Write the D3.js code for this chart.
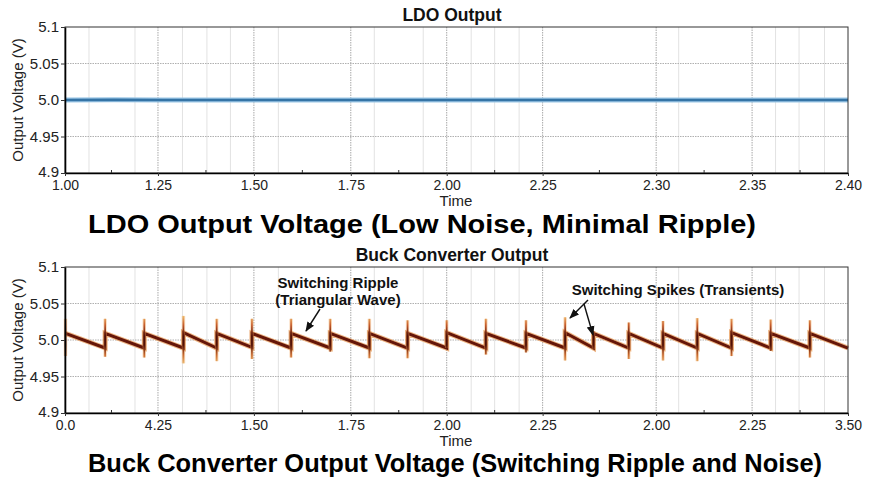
<!DOCTYPE html>
<html><head><meta charset="utf-8">
<script src="https://cdn.jsdelivr.net/npm/d3@7"></script>
<style>body{margin:0;background:#fff;}svg{display:block;font-family:"Liberation Sans",Arial,sans-serif;}</style>
</head><body>
<svg id="c" width="873" height="487"></svg>
<script>
// ---------- data ----------
const xTickPos = [0, 0.95, 1.93, 2.92, 3.90, 4.88, 6.04, 7.02, 8];
const ldoTickLabels = ["1.00","1.25","1.50","1.75","2.00","2.25","2.30","2.35","2.40"];
const buckTickLabels = ["0.0","4.25","1.50","1.75","2.00","2.25","2.00","2.25","3.50"];
const yTickValues = [4.9, 4.95, 5.0, 5.05, 5.1];
const yTickLabels = ["4.9","4.95","5.0","5.05","5.1"];
const minorGridPos = [0.245, 0.715, 1.2, 1.45, 1.69, 2.18, 3.16, 3.66, 4.15, 4.39, 4.64, 6.27, 7.26, 7.5, 7.76];

const ldoTime  = [0, 0.5, 1, 1.5, 2, 2.5, 3, 3.5, 4, 4.5, 5, 5.5, 6, 6.5, 7, 7.5, 8];
const ldoValue = [5.0, 5.0002, 4.9999, 5.0001, 5.0, 4.9999, 5.0001, 5.0, 5.0001, 4.9999, 5.0, 5.0001, 5.0, 4.9999, 5.0001, 5.0, 5.0];

const spikeTime = [0.005, 0.41, 0.81, 1.21, 1.55, 1.91, 2.31, 2.71, 3.11, 3.50, 3.90, 4.30, 4.71, 5.11, 5.40, 5.76, 6.11, 6.46, 6.81, 7.21, 7.61];
const spikeHigh = [5.029, 5.029, 5.029, 5.033, 5.029, 5.029, 5.029, 5.029, 5.029, 5.027, 5.027, 5.029, 5.027, 5.031, 5.012, 5.024, 5.026, 5.030, 5.029, 5.028, 5.027];
const spikeLow  = [4.978, 4.977, 4.976, 4.968, 4.971, 4.974, 4.976, 4.984, 4.975, 4.975, 4.989, 4.980, 4.983, 4.972, 4.987, 4.974, 4.972, 4.971, 4.978, 4.985, 4.976];
const rampStart = [5.009, 5.009, 5.009, 5.010, 5.009, 5.009, 5.009, 5.009, 5.009, 5.009, 5.010, 5.009, 5.009, 5.010, 5.009, 5.009, 5.009, 5.009, 5.010, 5.009, 5.009];
const rampEnd   = [4.989, 4.989, 4.989, 4.989, 4.990, 4.989, 4.989, 4.989, 4.989, 4.989, 4.989, 4.989, 4.989, 4.989, 4.989, 4.989, 4.989, 4.989, 4.989, 4.989, 4.989];
const endTime = 8;

// ---------- layout ----------
const svg = d3.select("#c");
const L = 65, R = 848;
const panels = [
  {top: 27, bottom: 173, title: "LDO Output", labels: ldoTickLabels, big: "LDO Output Voltage (Low Noise, Minimal Ripple)", bigY: 233, bigLen: 668, bigX: 422},
  {top: 267, bottom: 413, title: "Buck Converter Output", labels: buckTickLabels, big: "Buck Converter Output Voltage (Switching Ripple and Noise)", bigY: 472, bigLen: 734, bigX: 455}
];

const defs = svg.append("defs");
const mk = defs.append("marker").attr("id","ah").attr("viewBox","0 0 10 10").attr("refX",9).attr("refY",5)
  .attr("markerWidth",7).attr("markerHeight",7).attr("orient","auto-start-reverse");
mk.append("path").attr("d","M0,1 L10,5 L0,9 z").attr("fill","#111");

panels.forEach((p, pi) => {
  const x = d3.scaleLinear().domain([0, 8]).range([L, R]);
  const y = d3.scaleLinear().domain([4.9, 5.1]).range([p.bottom, p.top]);
  const g = svg.append("g");

  // minor vertical grid
  g.selectAll(".mg").data(minorGridPos).join("line")
    .attr("x1", d => x(d)).attr("x2", d => x(d)).attr("y1", p.top).attr("y2", p.bottom)
    .attr("stroke", "#e2e2e2").attr("stroke-width", 1);
  // major vertical grid
  g.selectAll(".vg").data(xTickPos.slice(1, -1)).join("line")
    .attr("x1", d => x(d)).attr("x2", d => x(d)).attr("y1", p.top).attr("y2", p.bottom)
    .attr("stroke", "#a8a8a8").attr("stroke-width", 1).attr("stroke-dasharray", "1.5,1");
  // horizontal grid
  g.selectAll(".hg").data(yTickValues.slice(1, -1)).join("line")
    .attr("x1", L).attr("x2", R).attr("y1", d => y(d)).attr("y2", d => y(d))
    .attr("stroke", "#b0b0b0").attr("stroke-width", 1).attr("stroke-dasharray", "1.5,1");

  if (pi === 0) {
    const line = d3.line().x((d, i) => x(ldoTime[i])).y(d => y(d));
    g.append("path").datum(ldoValue).attr("d", line).attr("fill", "none")
      .attr("stroke", "#9cc7e6").attr("stroke-width", 5);
    g.append("path").datum(ldoValue).attr("d", line).attr("fill", "none")
      .attr("stroke", "#3574a6").attr("stroke-width", 2.6);
  } else {
    const pts = [];
    spikeTime.forEach((t, i) => {
      if (i > 0) pts.push([t, rampEnd[i - 1]]);
      pts.push([t, rampStart[i]]);
    });
    pts.push([endTime, rampEnd[rampEnd.length - 1]]);
    const line = d3.line().x(d => x(d[0])).y(d => y(d[1]));
    g.append("path").datum(pts).attr("d", line).attr("fill", "none")
      .attr("stroke", "#e6944e").attr("stroke-opacity", 0.7).attr("stroke-width", 5);
    g.append("path").datum(pts).attr("d", line).attr("fill", "none")
      .attr("stroke", "#651609").attr("stroke-width", 3);

    const grad = defs.append("linearGradient").attr("id", "sg").attr("gradientUnits", "userSpaceOnUse")
      .attr("x1", 0).attr("x2", 0).attr("y1", y(5.034)).attr("y2", y(4.966));
    [[0, "#f3c46e"], [0.2, "#c65a2a"], [0.42, "#4e0f06"], [0.6, "#4e0f06"], [0.8, "#c8682e"], [1, "#f3c87a"]]
      .forEach(s => grad.append("stop").attr("offset", s[0]).attr("stop-color", s[1]));
    g.selectAll(".sh").data(spikeTime).join("line")
      .attr("x1", d => x(d)).attr("x2", d => x(d))
      .attr("y1", (d, i) => y(spikeHigh[i])).attr("y2", (d, i) => y(spikeLow[i]))
      .attr("stroke", "#f0a860").attr("stroke-opacity", 0.4).attr("stroke-width", 3.5);
    g.selectAll(".sp").data(spikeTime).join("line")
      .attr("x1", d => x(d)).attr("x2", d => x(d))
      .attr("y1", (d, i) => y(spikeHigh[i])).attr("y2", (d, i) => y(spikeLow[i]))
      .attr("stroke", "url(#sg)").attr("stroke-width", 1.7);
  }

  // frame
  g.append("rect").attr("x", L).attr("y", p.top).attr("width", R - L).attr("height", p.bottom - p.top)
    .attr("fill", "none").attr("stroke", "#333").attr("stroke-width", 1);

  // y axis
  const yAxis = d3.axisLeft(y).tickValues(yTickValues).tickFormat((d, i) => yTickLabels[i]).tickSize(4).tickSizeOuter(0);
  const ya = g.append("g").attr("transform", `translate(${L},0)`).call(yAxis);
  ya.select(".domain").attr("stroke", "#000").attr("stroke-width", 1.6);
  ya.selectAll("text").attr("font-size", 15).attr("fill", "#222").attr("font-family", "Liberation Sans, Arial").attr("dx", "1px");
  ya.selectAll(".tick line").attr("stroke", "#333");
  ya.selectAll(".tick").filter((d, i) => i === 0).select("text").attr("dy", "0.2em");

  // x axis
  const xAxis = d3.axisBottom(x).tickValues(xTickPos).tickFormat((d, i) => p.labels[i]).tickSize(3).tickSizeOuter(0);
  const xa = g.append("g").attr("transform", `translate(0,${p.bottom})`).call(xAxis);
  xa.select(".domain").attr("stroke", "#000").attr("stroke-width", 1.6);
  xa.selectAll("text").attr("font-size", 14).attr("fill", "#222").attr("font-family", "Liberation Sans, Arial").attr("dy", "0.8em");
  xa.selectAll(".tick line").attr("stroke", "#333");
  const mids = xTickPos.slice(0, -1).map((d, i) => (d + xTickPos[i + 1]) / 2);
  g.selectAll(".mt").data(mids).join("line")
    .attr("x1", d => x(d)).attr("x2", d => x(d)).attr("y1", p.bottom).attr("y2", p.bottom - 3)
    .attr("stroke", "#333").attr("stroke-width", 1);

  // labels
  g.append("text").attr("x", 452).attr("y", p.top - 6).attr("text-anchor", "middle")
    .attr("font-size", 17.5).attr("font-weight", "bold").attr("fill", "#111").text(p.title);
  g.append("text").attr("x", 456).attr("y", p.bottom + 33).attr("text-anchor", "middle")
    .attr("font-size", 15).attr("fill", "#222").text("Time");
  g.append("text").attr("transform", `translate(23,${(p.top + p.bottom) / 2}) rotate(-90)`).attr("text-anchor", "middle")
    .attr("font-size", 15).attr("fill", "#222").text("Output Voltage (V)");
  g.append("text").attr("x", p.bigX).attr("y", p.bigY).attr("text-anchor", "middle")
    .attr("font-size", 25).attr("font-weight", "bold").attr("fill", "#000")
    .attr("textLength", p.bigLen).attr("lengthAdjust", "spacingAndGlyphs").text(p.big);

  if (pi === 1) {
    const ann = g.append("g").attr("font-size", 15).attr("font-weight", "bold").attr("fill", "#111").attr("text-anchor", "middle");
    ann.append("text").attr("x", 338).attr("y", 288).text("Switching Ripple");
    ann.append("text").attr("x", 338).attr("y", 305).text("(Triangular Wave)");
    ann.append("text").attr("x", 678).attr("y", 295).text("Switching Spikes (Transients)");
    const arrows = [[320, 309, 306, 331], [588, 300, 570, 318], [584, 304, 593, 335]];
    g.selectAll(".ar").data(arrows).join("line")
      .attr("x1", d => d[0]).attr("y1", d => d[1]).attr("x2", d => d[2]).attr("y2", d => d[3])
      .attr("stroke", "#111").attr("stroke-width", 1.4).attr("marker-end", "url(#ah)");
  }
});
</script>
</body></html>
